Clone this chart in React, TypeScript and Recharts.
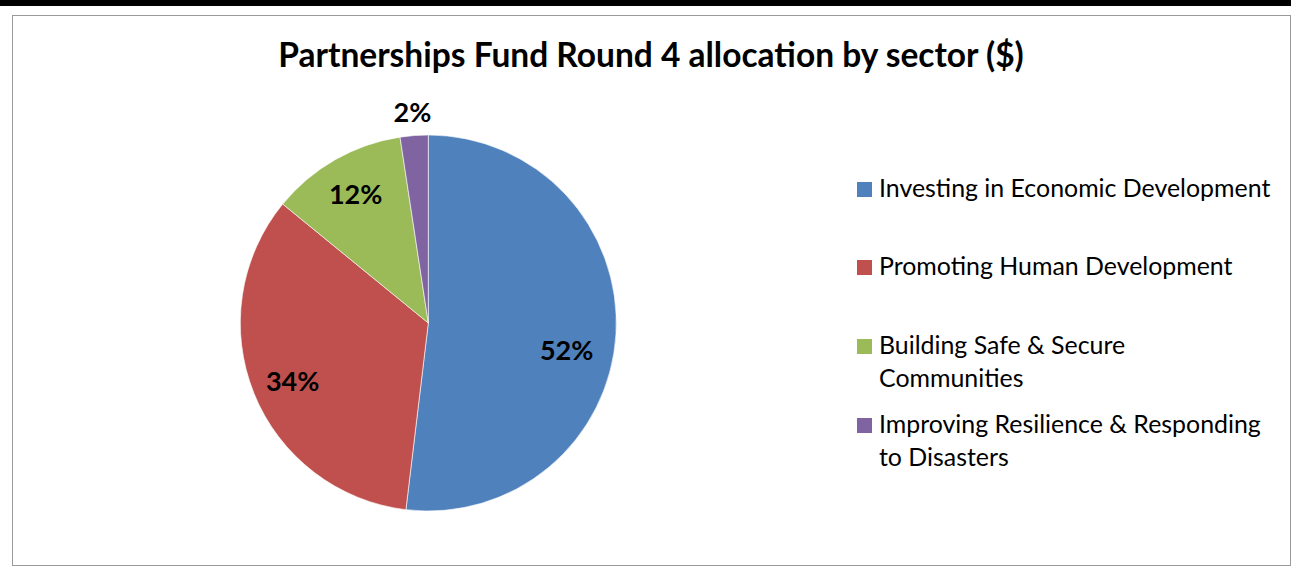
import { PieChart, Pie, Cell, Legend } from 'recharts'

// sector shares (percent of the round's $)
const sectors = [
  'Investing in Economic Development',
  'Promoting Human Development',
  'Building Safe & Secure Communities',
  'Improving Resilience & Responding to Disasters',
]
const shares = [51.9, 34.0, 11.7, 2.4]
const colors = ['#4F81BD', '#C0504D', '#9BBB59', '#8064A2']

const data = sectors.map((name, i) => ({ name, value: shares[i] }))

// Excel "best fit" label placement: distance from centre and angle nudge
const labelPlacement = [
  { r: 141, da: -7.8 },
  { r: 147.5, da: 1.2 },
  { r: 148, da: -0.3 },
  { r: 211, da: 0 },
]

const RAD = Math.PI / 180
const FONT = 'Lato, "Noto Sans", sans-serif'
const WRAP_CHARS = 33

// greedy word wrap, like the legend box in the original
const wrap = (s: string) => {
  const lines: string[] = []
  let cur = ''
  for (const w of s.split(' ')) {
    const next = cur ? cur + ' ' + w : w
    if (next.length > WRAP_CHARS && cur) {
      lines.push(cur)
      cur = w
    } else cur = next
  }
  if (cur) lines.push(cur)
  return lines
}

const renderLabel = (props: any) => {
  const { cx, cy, midAngle, percent, index } = props
  const p = labelPlacement[index]
  const a = (midAngle + p.da) * RAD
  const x = cx + p.r * Math.cos(-a)
  const y = cy + p.r * Math.sin(-a)
  return (
    <text
      x={x}
      y={y + 9.6}
      textAnchor="middle"
      fontFamily={FONT}
      fontWeight={700}
      fontSize={27}
      fill="#000"
    >
      {`${Math.round(percent * 100)}%`}
    </text>
  )
}

const renderLegend = (props: any) => {
  const payload = [...(props.payload || [])].sort(
    (a: any, b: any) => sectors.indexOf(a.value) - sectors.indexOf(b.value)
  )
  return (
    <div style={{ fontFamily: FONT }}>
      {payload.map((entry: any) => (
        <div
          key={entry.value}
          style={{ display: 'flex', alignItems: 'flex-start', height: 78.7 }}
        >
          <div
            style={{
              width: 15,
              height: 15,
              marginTop: 11.3,
              marginRight: 7,
              background: entry.color,
              flex: 'none',
            }}
          />
          <div
            style={{
              fontSize: 24.9,
              lineHeight: '33px',
              color: '#000',
              whiteSpace: 'nowrap',
            }}
          >
            {wrap(entry.value).map((line) => (
              <div key={line}>{line}</div>
            ))}
          </div>
        </div>
      ))}
    </div>
  )
}

export default function App() {
  return (
    <div
      style={{
        position: 'fixed',
        left: 0,
        top: 0,
        width: 1291,
        height: 566,
        background: '#fff',
        overflow: 'hidden',
      }}
    >
      {/* page rule above the chart */}
      <div
        style={{
          position: 'absolute',
          left: 0,
          top: 0,
          width: 1291,
          height: 6,
          background: '#000',
        }}
      />
      {/* chart area border */}
      <div
        style={{
          position: 'absolute',
          left: 12,
          top: 15,
          width: 1277,
          height: 549,
          border: '1px solid #9a9a9a',
        }}
      />
      <svg
        width={1291}
        height={100}
        style={{ position: 'absolute', left: 0, top: 0 }}
      >
        <text
          x={651}
          y={66.7}
          textAnchor="middle"
          fontFamily={FONT}
          fontWeight={700}
          fontSize={33.5}
          fill="#000"
        >
          Partnerships Fund Round 4 allocation by sector ($)
        </text>
      </svg>
      <div style={{ position: 'absolute', left: 0, top: 0 }}>
        <PieChart
          width={1291}
          height={566}
          margin={{ top: 0, right: 0, bottom: 0, left: 0 }}
        >
          <Pie
            data={data}
            dataKey="value"
            nameKey="name"
            cx={428.3}
            cy={323}
            outerRadius={188}
            startAngle={90}
            endAngle={-270}
            stroke="#ffffff"
            strokeWidth={0.6}
            label={renderLabel}
            labelLine={false}
            isAnimationActive={false}
          >
            {data.map((d, i) => (
              <Cell key={d.name} fill={colors[i]} />
            ))}
          </Pie>
          <Legend
            content={renderLegend}
            wrapperStyle={{ left: 857, top: 170.5, width: 430 }}
          />
        </PieChart>
      </div>
    </div>
  )
}
